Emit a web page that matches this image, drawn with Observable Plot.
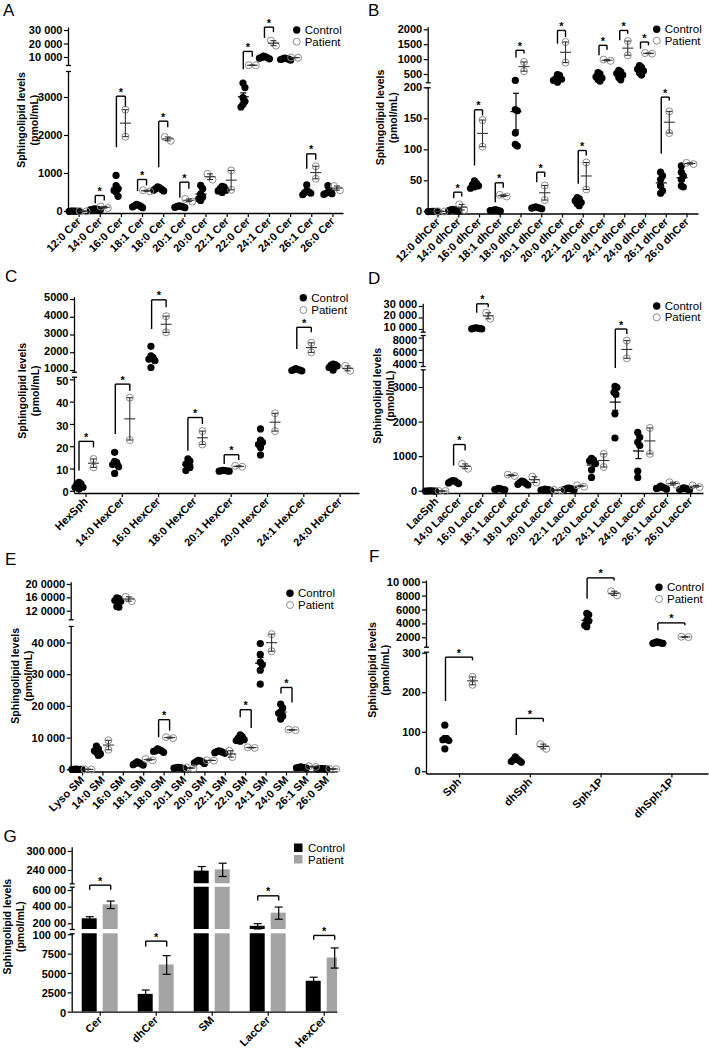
<!DOCTYPE html>
<html><head><meta charset="utf-8">
<script src="https://cdn.jsdelivr.net/npm/d3@7"></script>
<script src="https://cdn.jsdelivr.net/npm/@observablehq/plot@0.6"></script>
<style>
html,body{margin:0;padding:0;background:#fff;}
#fig{position:relative;width:709px;height:1050px;overflow:hidden;background:#fff;}
</style></head>
<body><div id="fig"></div>
<script>
// ================= DATA =================
// Panel A – Cer
const catsA = ["12:0 Cer","14:0 Cer","16:0 Cer","18:1 Cer","18:0 Cer","20:1 Cer","20:0 Cer","22:1 Cer","22:0 Cer","24:1 Cer","24:0 Cer","26:1 Cer","26:0 Cer"];
const ctrlA = [[5,8,10,6,4,7],[30,40,50,60,50,70],[950,680,600,550,510,400],[100,120,140,150,170,190],[540,560,580,600,620,650],[100,110,120,130,140,150],[690,600,460,380,330,290],[660,640,600,560,540,500],[3380,3260,3000,2900,2820,2750],[10500,9500,9000,10000,11000,9800],[9000,8500,8000,9500,8800,9200],[700,540,520,500,480,440],[680,550,500,480,470,450]];
const patA = [[5,10],[90,130],[1970,2680],[530,560],[1860,1960],[260,330],[840,990],[570,1080],[4250,4300],[18750,22500],[9800,10000],[860,1190],[560,670]];
const sigA = [
  {cat:1,seg:0,top:421,left:219,right:289},{cat:2,seg:0,top:3034,left:1693,right:2745},
  {cat:3,seg:0,top:842,left:535,right:684},{cat:4,seg:0,top:2377,left:1166,right:2219},
  {cat:5,seg:0,top:772,left:360,right:596},{cat:8,seg:1,top:14500,left:1250,right:10500},
  {cat:9,seg:1,top:32500,left:24500,right:28750},{cat:11,seg:0,top:1517,left:1122,right:1359}];
const ticksA = [[0,1000,2000,3000],[10000,20000,30000]];
const labelsA = [["0","1000","2000","3000"],["10 000","20 000","30 000"]];

// Panel B – dhCer
const catsB = ["12:0 dhCer","14:0 dhCer","16:0 dhCer","18:1 dhCer","18:0 dhCer","20:1 dhCer","20:0 dhCer","22:1 dhCer","22:0 dhCer","24:1 dhCer","24:0 dhCer","26:1 dhCer","26:0 dhCer"];
const ctrlB = [[0.3,0.5,0.8,0.4,0.6,0.5],[1,2,3,2,3,4],[50,46,44,42,40,38],[1,2,2,3,2,3],[300,165,163,127,109,106],[5,6,7,8,7,6],[500,470,350,300,340,240],[23,21,18,15,13,10],[560,520,420,380,330,280],[640,590,540,480,400,320],[800,740,680,620,560,480],[64,58,52,42,34,30],[74,64,58,52,42,40]];
const patB = [[0.5,1],[3,12],[105,148],[24.7,27.4],[610,920],[19,42.5],[900,1590],[36,79.6],[957,1000],[1145,1623],[1200,1220],[127,162],[77,79]];
const sigB = [
  {cat:1,seg:0,top:31.7,left:22,right:24.7},{cat:2,seg:0,top:164.5,left:74.7,right:155.4},
  {cat:3,seg:0,top:46.8,left:15.6,right:38.7},{cat:4,seg:1,top:1312,left:1068,right:1201},
  {cat:5,seg:0,top:64,left:47.8,right:56},{cat:6,seg:1,top:1978,left:1534,right:1756},
  {cat:7,seg:0,top:98.9,left:45.2,right:90.9},{cat:8,seg:1,top:1478,left:1145,right:1334},
  {cat:9,seg:1,top:1978,left:1645,right:1867},{cat:10,seg:1,top:1589,left:1367,right:1478},
  {cat:11,seg:0,top:185,left:93.5,right:179.6}];
const ticksB = [[0,50,100,150,200],[500,1000,1500,2000]];
const labelsB = [["0","50","100","150","200"],["500","1000","1500","2000"]];

// Panel C – HexCer
const catsC = ["HexSph","14:0 HexCer","16:0 HexCer","18:0 HexCer","20:1 HexCer","20:0 HexCer","24:1 HexCer","24:0 HexCer"];
const ctrlC = [[4,3.3,3.3,1.8,1.8,1],[17.5,13.4,13,12,11,8],[2360,1830,1740,1640,1550,1170],[14.5,13.5,12.2,11,10.7,9.3],[9,9.2,9.3,9.1,9.4,9],[28,23,22,21,19.7,16.3],[1100,1070,1050,1020,1000,980],[1360,1330,1300,1250,1170,1020]];
const patC = [[10.7,14.5],[23,42],[3150,4060],[21,27],[11,11.4],[27,35],[2020,2560],[980,1260]];
const sigC = [
  {cat:0,seg:0,top:22.4,left:9.3,right:19.7},{cat:1,seg:0,top:48.1,left:25.7,right:45.1},
  {cat:2,seg:1,top:4981,left:3339,right:4566},{cat:3,seg:0,top:33.1,left:18.2,right:30.2},
  {cat:4,seg:0,top:16.4,left:12.2,right:14.0},{cat:6,seg:1,top:3434,left:2207,right:3151}];
const ticksC = [[0,10,20,30,40,50],[1000,2000,3000,4000,5000]];
const labelsC = [["0","10","20","30","40","50"],["1000","2000","3000","4000","5000"]];

// Panel D – LacCer
const catsD = ["LacSph","14:0 LacCer","16:0 LacCer","18:1 LacCer","18:0 LacCer","20:0 LacCer","22:1 LacCer","22:0 LacCer","24:1 LacCer","24:0 LacCer","26:1 LacCer","26:0 LacCer"];
const ctrlD = [[5,8,10,6,4,7],[310,300,280,260,240,220],[11500,11200,11000,10800,10600,10500],[40,50,60,70,80,50],[290,270,250,220,200,180],[20,30,40,50,60,40],[40,50,60,70,80,90],[950,900,880,800,620,400],[3030,3000,2860,2800,2240,1540],[1700,1560,1420,1320,580,400],[60,80,90,100,120,150],[40,50,60,70,80,100]];
const patD = [[5,10],[650,790],[19300,24500],[440,480],[250,420],[20,40],[130,170],[700,1080],[4700,7600],[1080,1830],[180,260],[120,170]];
const sigD = [
  {cat:1,seg:0,top:1350,left:742,right:1176},{cat:2,seg:2,top:32330,left:24500,right:29430},
  {cat:8,seg:1,top:9492,left:3096,right:8693}];
const ticksD = [[0,1000,2000,3000],[4000,6000,8000],[10000,20000,30000]];
const labelsD = [["0","1000","2000","3000"],["4000","6000","8000"],["10 000","20 000","30 000"]];

// Panel E – SM
const catsE = ["Lyso SM","14:0 SM","16:0 SM","18:1 SM","18:0 SM","20:1 SM","20:0 SM","22:1 SM","22:0 SM","24:1 SM","24:0 SM","26:1 SM","26:0 SM"];
const ctrlE = [[100,150,200,150,100,120],[7500,6600,6000,5500,5000,4500],[160000,158000,152000,150000,134000,132000],[1500,1800,2000,2200,2500,1600],[5500,5800,6000,6300,6600,6000],[400,500,600,700,800,500],[2000,2200,2500,2600,2800,3000],[5200,5400,5500,5700,5800,6000],[9000,9200,9500,10000,10500,11000],[39800,36400,34000,33100,31400,27000],[20700,19500,18300,17800,17000,16000],[500,600,700,700,800,900],[200,250,300,300,350,400]];
const patE = [[100,150],[6300,9300],[150000,163000],[3000,3400],[10000,10300],[450,650],[2900,3000],[4000,6000],[6900,7100],[37400,42800],[12500,12700],[900,1100],[200,300]];
const sigE = [
  {cat:4,seg:0,top:15810,left:10260,right:12355},{cat:8,seg:0,top:18950,left:16540,right:13190},
  {cat:10,seg:0,top:25966,left:24080,right:21254}];
const ticksE = [[0,10000,20000,30000,40000],[120000,160000,200000]];
const labelsE = [["0","10 000","20 000","30 000","40 000"],["12 0000","16 0000","20 0000"]];

// Panel F – sphingoid bases
const catsF = ["Sph","dhSph","Sph-1P","dhSph-1P"];
const ctrlF = [[118,83,83,81,79,58],[38,30,28,26,24,32],[5500,5300,4500,4400,3800,3600],[1400,1350,1300,1250,1200,1200]];
const patF = [[220,240],[58,70],[8100,8700],[2100,2150]];
const sigF = [
  {cat:0,seg:0,top:290,left:179,right:282},{cat:1,seg:0,top:135,left:93.3,right:126.7},
  {cat:2,seg:1,top:10619,left:7620,right:10238},{cat:3,seg:1,top:4145,left:3098,right:3812}];
const ticksF = [[0,100,200,300],[2000,4000,6000,8000,10000]];
const labelsF = [["0","100","200","300"],["2000","4000","6000","8000","10 000"]];

// Panel G – totals (mean ± SEM)
const catsG = ["Cer","dhCer","SM","LacCer","HexCer"];
const gCtrl = [26000,2300,238000,17000,4000];
const gCtrlErr = [2500,560,14500,3200,520];
const gPat = [42800,6100,242000,32800,7000];
const gPatErr = [4500,1200,21000,7300,1300];
const sigG = [{cat:0,seg:1,top:66400,leg:60800},{cat:1,seg:0,top:9180,leg:8490},{cat:3,seg:1,top:53600,leg:48000},{cat:4,seg:0,top:9913,leg:9353}];
const ticksG = [[0,2500,5000,7500,10000],[20000,40000,60000],[240000,300000]];
const labelsG = [["0","2500","5000","7500","100 00"],["200 00","400 00","600 00"],["240 000","300 000"]];

// ================= LAYOUT (pixels) =================
const layoutA = {x0:78.6, step:21.15, left:68, right:343, cOff:-5, pOff:4, labelDy:[0,0],
  segs:[{domain:[-53,3684],range:[213,71]},{domain:[4074,32222],range:[65,27]}]};
const layoutB = {x0:437.5, step:20.75, left:427.7, right:698, cOff:-5, pOff:3, labelDy:[0,0],
  segs:[{domain:[-3.5,200],range:[213.5,87.3]},{domain:[221,2087],range:[82.3,26.7]}]};
const layoutC = {x0:85.5, step:36.3, left:74, right:359, cOff:-7, pOff:7.5, labelDy:[1.6,-1.6],
  segs:[{domain:[-1.0,51.2],range:[493,376.7]},{domain:[904,5130],range:[371.7,296.7]}]};
const layoutD = {x0:436, step:23.1, left:422.7, right:703, cOff:-6, pOff:5.5, labelDy:[0,2,-2.2],
  segs:[{domain:[-66,3512],range:[493,369.3]},{domain:[3360,8432],range:[366,335]},{domain:[7650,32350],range:[331.7,303.3]}]};
const layoutE = {x0:82, step:20.4, left:70.7, right:337, cOff:-5.5, pOff:5.5, labelDy:[0,0],
  segs:[{domain:[-700,45200],range:[771.5,626]},{domain:[94200,206900],range:[619.3,581.7]}]};
const layoutF = {x0:459, step:70.8, left:426, right:708, cOff:-14, pOff:13, labelDy:[0,0],
  segs:[{domain:[-5.6,302.5],range:[773.5,651.7]},{domain:[647,10245],range:[646.7,580]}]};
const layoutG = {x0:99.7, step:56, left:71.7, right:337, labelDy:[0.8,-0.4,0],
  segs:[{domain:[0,10125],range:[1011.7,933.3]},{domain:[13150,63960],range:[929,886.7]},{domain:[197900,313600],range:[883.3,846.7]}]};

// ================= DRAWING =================
const W = 709, H = 1050;
const FONT = '"Liberation Sans", Arial, Helvetica, sans-serif';
const fig = document.getElementById("fig");

function uRange(L){ return [0.5 + (L.left - L.x0)/L.step, 0.5 + (L.right - L.x0)/L.step]; }
function segOf(L, v){ for (let s = 0; s < L.segs.length - 1; s++) if (v <= L.segs[s].domain[1]) return s; return L.segs.length - 1; }
function pixY(seg, v){ const [d0,d1] = seg.domain, [r0,r1] = seg.range; return r0 + (v - d0)/(d1 - d0)*(r1 - r0); }
function swarm(ys, D, k, s){
  const idx = ys.map((_, i) => i).sort((a, b) => ys[a] - ys[b]);
  const placed = [], off = ys.map(() => 0);
  for (const i of idx) {
    for (let j = 0; j < 80; j++) {
      const c = j === 0 ? 0 : (j % 2 ? 1 : -1) * Math.ceil(j/2) * s;
      if (placed.every(p => ((p.x - c)*k)**2 + (p.y - ys[i])**2 >= D*D)) { off[i] = c; placed.push({x:c, y:ys[i]}); break; }
    }
  }
  const m = d3.mean(off);
  return off.map(o => o - m);
}

function mkPlot(L, s, marks, withX){
  const [u0, u1] = uRange(L), seg = L.segs[s];
  const svg = Plot.plot({
    width: W, height: H,
    marginLeft: L.left, marginRight: W - L.right,
    marginTop: seg.range[1], marginBottom: H - seg.range[0],
    x: withX ? {type:"linear", domain:[u0,u1], label:null} : {type:"linear", domain:[u0,u1], label:null, axis:null},
    y: {type:"linear", domain: seg.domain, label:null},
    style: {background:"transparent", fontFamily: FONT, fontSize:"11px", fontWeight:"bold", overflow:"visible",
            position:"absolute", left:"0px", top:"0px", maxWidth:"none", color:"#000"},
    marks
  });
  fig.appendChild(svg);
}

function axisMarks(L, s, ticks, labels, cats){
  const [u0, u1] = uRange(L), seg = L.segs[s], [d0, d1] = seg.domain;
  const cap = 2.5 / L.step;
  const lines = [{x1:u0, y1:d0, x2:u0, y2:d1}];
  if (s > 0) lines.push({x1:u0-cap, x2:u0+cap, y1:d0, y2:d0});
  if (s < L.segs.length - 1) lines.push({x1:u0-cap, x2:u0+cap, y1:d1, y2:d1});
  if (s === 0) lines.push({x1:u0, x2:u1, y1:d0, y2:d0});
  const lab = new Map(ticks.map((t, i) => [t, labels[i]]));
  const marks = [
    Plot.link(lines, {x1:"x1", y1:"y1", x2:"x2", y2:"y2", stroke:"#000", strokeWidth:1.3}),
    Plot.axisY(ticks, {tickFormat: d => lab.get(d), tickSize:4, tickPadding:2, label:null, strokeWidth:1.2, text:null}),
    Plot.axisY(ticks, {tickFormat: d => lab.get(d), tickSize:0, tickPadding:6, label:null, dy:(L.labelDy || [])[s] || 0})
  ];
  if (s === 0) marks.push(Plot.axisX(cats.map((c, i) => i + 0.5), {
    tickFormat: d => cats[Math.round(d - 0.5)], tickRotate:-45, tickSize:4, tickPadding:2, label:null, strokeWidth:1.2}));
  return marks;
}

const LINK = {x1:"x1", y1:"y1", x2:"x2", y2:"y2"};

function scatterPanel(cats, ctrl, pat, sig, ticks, labels, L){
  const pts = [], errsC = [], errsP = [], brs = [], ast = [];
  cats.forEach((c, i) => {
    [[ctrl[i], L.cOff, true], [pat[i], L.pOff, false]].forEach(([vals, off, isC]) => {
      const ss = vals.map(v => segOf(L, v));
      const ys = vals.map((v, j) => pixY(L.segs[ss[j]], v));
      const offs = isC ? swarm(ys, 6, 3, 1) : swarm(ys, 7, 1, 1);
      vals.forEach((v, j) => pts.push({s:ss[j], c:isC, x:i + 0.5 + (off + offs[j])/L.step, y:v}));
      const m = d3.mean(vals), se = d3.deviation(vals)/Math.sqrt(vals.length);
      const s = segOf(L, m), xc = i + 0.5 + off/L.step, hw = 5.5/L.step, cw = 3/L.step;
      const arr = isC ? errsC : errsP;
      arr.push({s, x1:xc-hw, x2:xc+hw, y1:m, y2:m},
               {s, x1:xc, x2:xc, y1:m-se, y2:m+se},
               {s, x1:xc-cw, x2:xc+cw, y1:m-se, y2:m-se},
               {s, x1:xc-cw, x2:xc+cw, y1:m+se, y2:m+se});
    });
  });
  sig.forEach(b => {
    const xl = b.cat + 0.5 + L.cOff/L.step, xr = b.cat + 0.5 + L.pOff/L.step;
    brs.push({s:b.seg, x1:xl, y1:b.left, x2:xl, y2:b.top},
             {s:b.seg, x1:xl, y1:b.top, x2:xr, y2:b.top},
             {s:b.seg, x1:xr, y1:b.top, x2:xr, y2:b.right});
    ast.push({s:b.seg, x:(xl + xr)/2, y:b.top});
  });
  L.segs.forEach((seg, s) => {
    const f = d => d.s === s;
    mkPlot(L, s, [
      ...axisMarks(L, s, ticks[s], labels[s], cats),
      Plot.link(brs.filter(f), {...LINK, stroke:"#000", strokeWidth:1.4}),
      Plot.text(ast.filter(f), {x:"x", y:"y", text:() => "*", dy:-4, fontSize:11}),
      Plot.dot(pts.filter(d => f(d) && d.c), {x:"x", y:"y", r:3.6, fill:"#000", stroke:"none"}),
      Plot.link(errsC.filter(f), {...LINK, stroke:"#000", strokeWidth:1.2}),
      Plot.dot(pts.filter(d => f(d) && !d.c), {x:"x", y:"y", r:3.5, fill:"none", stroke:"#8c8c8c", strokeWidth:1}),
      Plot.link(errsP.filter(f), {...LINK, stroke:"#333", strokeWidth:1.1})
    ], s === 0);
  });
}

function barPanel(L){
  const bw0 = 3/L.step, bw1 = 18/L.step, ctr = 10.5/L.step, cw = 4/L.step;
  const barsC = catsG.map((c, i) => ({x1:i+0.5-bw1, x2:i+0.5-bw0, y1:0, y2:gCtrl[i]}));
  const barsP = catsG.map((c, i) => ({x1:i+0.5+bw0, x2:i+0.5+bw1, y1:0, y2:gPat[i]}));
  const errs = [];
  catsG.forEach((c, i) => {
    [[gCtrl[i], gCtrlErr[i], -ctr], [gPat[i], gPatErr[i], ctr]].forEach(([m, e, o]) => {
      const s = segOf(L, m), xc = i + 0.5 + o;
      errs.push({s, x1:xc, x2:xc, y1:m-e, y2:m+e}, {s, x1:xc-cw, x2:xc+cw, y1:m-e, y2:m-e}, {s, x1:xc-cw, x2:xc+cw, y1:m+e, y2:m+e});
    });
  });
  const brs = [], ast = [];
  sigG.forEach(b => {
    const xl = b.cat + 0.5 - ctr, xr = b.cat + 0.5 + ctr;
    brs.push({s:b.seg, x1:xl, y1:b.leg, x2:xl, y2:b.top}, {s:b.seg, x1:xl, y1:b.top, x2:xr, y2:b.top}, {s:b.seg, x1:xr, y1:b.top, x2:xr, y2:b.leg});
    ast.push({s:b.seg, x:(xl + xr)/2, y:b.top});
  });
  L.segs.forEach((seg, s) => {
    const f = d => d.s === s;
    mkPlot(L, s, [
      Plot.rect(barsC, {x1:"x1", x2:"x2", y1:"y1", y2:"y2", fill:"#000", clip:true}),
      Plot.rect(barsP, {x1:"x1", x2:"x2", y1:"y1", y2:"y2", fill:"#a3a3a3", clip:true}),
      ...axisMarks(L, s, ticksG[s], labelsG[s], catsG),
      Plot.link(errs.filter(f), {...LINK, stroke:"#000", strokeWidth:1.2}),
      Plot.link(brs.filter(f), {...LINK, stroke:"#000", strokeWidth:1.4}),
      Plot.text(ast.filter(f), {x:"x", y:"y", text:() => "*", dy:-4, fontSize:11})
    ], s === 0);
  });
}

scatterPanel(catsA, ctrlA, patA, sigA, ticksA, labelsA, layoutA);
scatterPanel(catsB, ctrlB, patB, sigB, ticksB, labelsB, layoutB);
scatterPanel(catsC, ctrlC, patC, sigC, ticksC, labelsC, layoutC);
scatterPanel(catsD, ctrlD, patD, sigD, ticksD, labelsD, layoutD);
scatterPanel(catsE, ctrlE, patE, sigE, ticksE, labelsE, layoutE);
scatterPanel(catsF, ctrlF, patF, sigF, ticksF, labelsF, layoutF);
barPanel(layoutG);

// ================= TEXT OVERLAY: panel letters, y titles, legends =================
const ov = d3.create("svg").attr("width", W).attr("height", H)
  .style("position","absolute").style("left","0px").style("top","0px")
  .attr("font-family", FONT);
const letters = [["A",3,15.5],["B",368,15.5],["C",5,281.5],["D",368,283.5],["E",5,565],["F",369,561.7],["G",3.5,841.7]];
letters.forEach(([t,x,y]) => ov.append("text").attr("x",x).attr("y",y).attr("font-size",17).text(t));
const titles = [[25,120],[384.3,117.5],[26,390.8],[381,395.8],[19,675.8],[375.7,670],[11,926.7]];
titles.forEach(([x,y]) => {
  const g = ov.append("g").attr("transform", `translate(${x},${y}) rotate(-90)`)
    .attr("font-size", 10.5).attr("font-weight","bold").attr("text-anchor","middle");
  g.append("text").attr("x",0).attr("y",0).text("Sphingolipid levels");
  g.append("text").attr("x",0).attr("y",13).text("(pmol/mL)");
});
const legends = [[296.7,30,41.7],[656.7,29.3,40.7],[303.3,297.7,310],[656.7,306,317.3],[290,593.3,605],[659,587.3,599]];
legends.forEach(([x,y1,y2]) => {
  ov.append("circle").attr("cx",x).attr("cy",y1).attr("r",3.7).attr("fill","#000");
  ov.append("circle").attr("cx",x).attr("cy",y2).attr("r",3.5).attr("fill","none").attr("stroke","#8c8c8c");
  ov.append("text").attr("x",x+8).attr("y",y1+4).attr("font-size",11.5).text("Control");
  ov.append("text").attr("x",x+8).attr("y",y2+4).attr("font-size",11.5).text("Patient");
});
ov.append("rect").attr("x",294).attr("y",843.5).attr("width",8.5).attr("height",8.5).attr("fill","#000");
ov.append("rect").attr("x",294).attr("y",855).attr("width",8.5).attr("height",8.5).attr("fill","#a3a3a3");
ov.append("text").attr("x",308).attr("y",852).attr("font-size",11.5).text("Control");
ov.append("text").attr("x",308).attr("y",863.5).attr("font-size",11.5).text("Patient");
fig.appendChild(ov.node());
</script>
</body></html>
